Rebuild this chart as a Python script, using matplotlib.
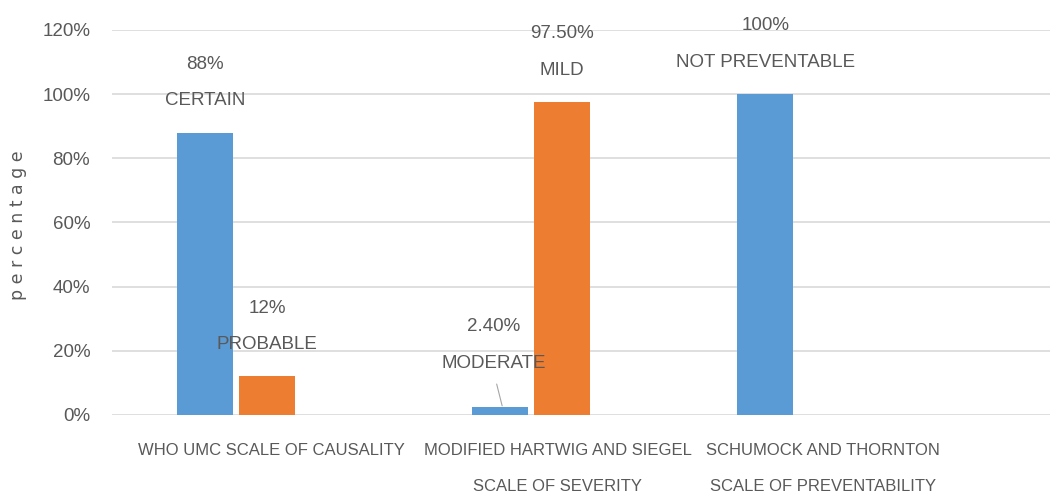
import numpy as np
import matplotlib
matplotlib.use('Agg')
import matplotlib.pyplot as plt

plt.rcParams['font.family'] = ['Liberation Sans', 'DejaVu Sans']

categories = ['WHO UMC SCALE OF CAUSALITY',
              'MODIFIED HARTWIG AND SIEGEL\nSCALE OF SEVERITY',
              'SCHUMOCK AND THORNTON\nSCALE OF PREVENTABILITY']
blue_vals = [0.88, 0.024, 1.00]
orange_vals = [0.12, 0.975, None]
blue_text = ['88%\nCERTAIN', '2.40%\nMODERATE', '100%\nNOT PREVENTABLE']
orange_text = ['12%\nPROBABLE', '97.50%\nMILD', None]

BLUE = '#5B9BD5'
ORANGE = '#ED7D31'
GREY = '#595959'
FS = 13.5
LS = 2.5

# group centres (the source picture is a bit uneven)
xc = np.array([0.0, 1.0, 1.9])
off, w = 0.105, 0.19

fig = plt.figure(figsize=(10.5, 4.98), dpi=100)
ax = fig.add_axes([0.107, 0.167, 0.893, 0.773])

for i in range(3):
    xb = xc[i] - off
    ax.bar(xb, blue_vals[i], w, color=BLUE, zorder=2)
    if i == 1:
        # label lifted away from the tiny bar, with a leader line
        ax.annotate(blue_text[i], xy=(xb + 0.007, blue_vals[i] + 0.004),
                    xytext=(xb - 0.022, 0.134), ha='center', va='bottom',
                    fontsize=FS, color=GREY, linespacing=LS,
                    arrowprops=dict(arrowstyle='-', color='#a6a6a6', lw=0.8,
                                    shrinkA=7, shrinkB=0,
                                    relpos=(0.5, 0.0)))
    else:
        ax.text(xb, blue_vals[i] + 0.072, blue_text[i], ha='center', va='bottom',
                fontsize=FS, color=GREY, linespacing=LS, clip_on=False)
    if orange_vals[i] is not None:
        xo = xc[i] + off
        ax.bar(xo, orange_vals[i], w, color=ORANGE, zorder=2)
        ax.text(xo, orange_vals[i] + 0.072, orange_text[i], ha='center', va='bottom',
                fontsize=FS, color=GREY, linespacing=LS, clip_on=False)

ax.set_ylim(0, 1.2)
ax.set_xlim(-0.42, 2.76)
ax.set_yticks(np.arange(0, 1.21, 0.2))
ax.set_yticklabels(['%d%%' % round(v * 100) for v in np.arange(0, 1.21, 0.2)])
ax.set_xticks([0.12, 1.09, 1.99])
ax.set_xticklabels(categories, linespacing=2.8, fontsize=12)
ax.tick_params(axis='both', length=0, colors=GREY, labelsize=FS)
ax.tick_params(axis='x', labelsize=12, pad=20)
ax.tick_params(axis='y', pad=16)
ax.grid(axis='y', color='#d9d9d9', lw=1.2, zorder=0)
ax.set_axisbelow(True)
for s in ax.spines.values():
    s.set_visible(False)

fig.text(0.017, 0.548, 'p e r c e n t a g e', rotation=90, ha='center', va='center',
         fontsize=12.5, color=GREY, family=['DejaVu Sans'])

fig.savefig('out.png', dpi=100)
